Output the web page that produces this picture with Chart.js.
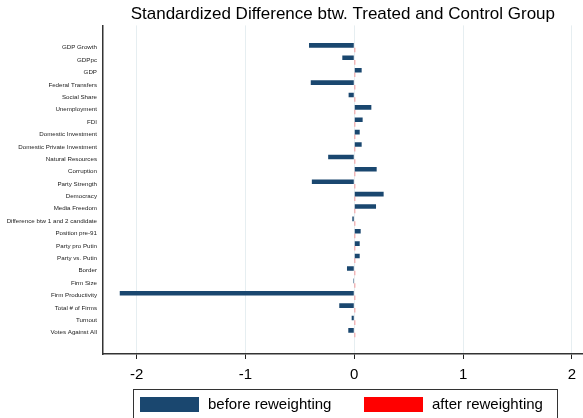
<!DOCTYPE html>
<html>
<head>
<meta charset="utf-8">
<script src="https://cdn.jsdelivr.net/npm/chart.js@4.4.1/dist/chart.umd.min.js"></script>
<style>
  html, body { margin: 0; padding: 0; background: #fff; }
  canvas { display: block; }
</style>
</head>
<body>
<canvas id="chart" width="583" height="418"></canvas>
<script>
// covariates, top to bottom
const categories = [
  "GDP Growth", "GDPpc", "GDP", "Federal Transfers", "Social Share",
  "Unemployment", "FDI", "Domestic Investment", "Domestic Private Investment",
  "Natural Resources", "Corruption", "Party Strength", "Democracy",
  "Media Freedom", "Difference btw 1 and 2 candidate", "Position pre-91",
  "Party pro Putin", "Party vs. Putin", "Border", "Firm Size",
  "Firm Productivity", "Total # of Firms", "Turnout", "Votes Against All"
];
// standardized differences
const beforeReweighting = [
  -0.416, -0.11, 0.068, -0.40, -0.052,
  0.157, 0.077, 0.05, 0.068,
  -0.24, 0.206, -0.39, 0.27,
  0.20, -0.018, 0.059,
  0.05, 0.05, -0.067, -0.009,
  -2.156, -0.138, -0.024, -0.055
];
const afterReweighting = [
  0.008, 0.008, 0.008, 0.008, 0.008,
  0.008, 0.008, 0.008, 0.008,
  0.008, 0.008, 0.008, 0.008,
  0.008, 0.008, 0.008,
  0.008, 0.008, 0.008, 0.008,
  0.008, 0.008, 0.008, 0.008
];
const xTicks = [-2, -1, 0, 1, 2];

const FONT = "'Liberation Sans', Arial, sans-serif";
const NAVY = '#1a476f';
const RED = '#ff0000';

const toPoints = arr => arr.map((v, i) => ({ x: v, y: i }));

// boxed legend along the bottom edge
const boxLegend = {
  id: 'boxLegend',
  afterDraw(chart) {
    const ctx = chart.ctx;
    const ds = chart.data.datasets;
    ctx.save();
    ctx.strokeStyle = '#333';
    ctx.lineWidth = 1;
    ctx.strokeRect(133.5, 389.5, 424, 40);
    const items = [{ sx: 140, tx: 208 }, { sx: 364, tx: 432 }];
    ctx.font = '15px ' + FONT;
    ctx.textBaseline = 'middle';
    ctx.textAlign = 'left';
    items.forEach((it, i) => {
      ctx.fillStyle = ds[i].backgroundColor;
      ctx.fillRect(it.sx, 397, 59, 15);
      ctx.fillStyle = '#000';
      ctx.fillText(ds[i].label, it.tx, 405);
    });
    ctx.restore();
  }
};

new Chart(document.getElementById('chart'), {
  type: 'bar',
  data: {
    datasets: [
      { label: 'before reweighting', data: toPoints(beforeReweighting), backgroundColor: NAVY },
      { label: 'after reweighting', data: toPoints(afterReweighting), backgroundColor: RED }
    ]
  },
  options: {
    indexAxis: 'y',
    responsive: false,
    animation: false,
    categoryPercentage: 0.74,
    barPercentage: 1.0,
    layout: { padding: { left: 0, right: 0, top: 0, bottom: 29 } },
    plugins: {
      legend: { display: false },
      tooltip: { enabled: false },
      title: {
        display: true,
        fullSize: false,
        text: 'Standardized Difference btw. Treated and Control Group',
        color: '#000',
        font: { family: FONT, size: 17, weight: 'normal' },
        padding: { top: 4, bottom: 1 }
      }
    },
    scales: {
      x: {
        type: 'linear',
        min: -2.31,
        max: 2.1,
        afterBuildTicks: s => { s.ticks = xTicks.map(v => ({ value: v })); },
        afterFit: s => { s.height = 35; },
        grid: { color: '#e6eef1', lineWidth: 1, tickLength: 5, tickColor: '#222' },
        border: { display: true, color: '#333', width: 1.5 },
        ticks: { color: '#000', padding: 7, font: { family: FONT, size: 15 } }
      },
      y: {
        type: 'linear',
        reverse: true,
        offset: false,
        min: -1.8,
        max: 24.72,
        afterBuildTicks: s => { s.ticks = categories.map((c, i) => ({ value: i })); },
        afterFit: s => { s.width = 103; },
        grid: { display: false, drawTicks: false, offset: false },
        border: { display: true, color: '#333', width: 1.5 },
        ticks: {
          autoSkip: false,
          color: '#222',
          padding: 6,
          font: { family: FONT, size: 6.2 },
          callback: v => categories[v] ?? ''
        }
      }
    }
  },
  plugins: [boxLegend]
});
</script>
</body>
</html>
